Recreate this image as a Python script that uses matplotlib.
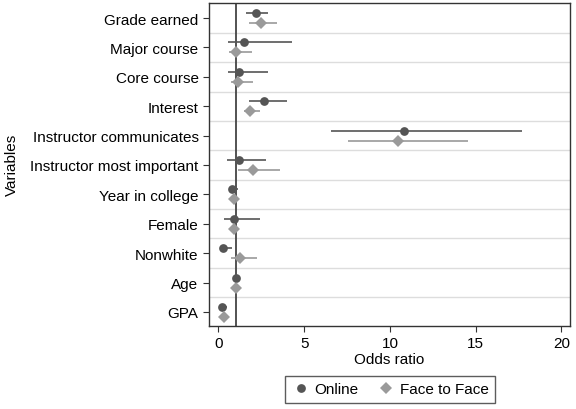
import numpy as np
import matplotlib.pyplot as plt

plt.rcParams['font.family'] = ['Liberation Sans', 'DejaVu Sans']

variables = ["Grade earned", "Major course", "Core course", "Interest",
             "Instructor communicates", "Instructor most important",
             "Year in college", "Female", "Nonwhite", "Age", "GPA"]

online_or = [2.18, 1.52, 1.22, 2.66, 10.8, 1.20, 0.78, 0.91, 0.29, 1.01, 0.20]
online_lo = [1.61, 0.55, 0.55, 1.77, 6.58, 0.53, 0.62, 0.35, 0.12, 0.96, 0.07]
online_hi = [2.91, 4.29, 2.91, 4.02, 17.69, 2.78, 1.13, 2.43, 0.78, 1.06, 0.53]

f2f_or = [2.47, 1.03, 1.17, 1.85, 10.45, 2.04, 0.93, 0.91, 1.26, 1.01, 0.35]
f2f_lo = [1.81, 0.62, 0.72, 1.52, 7.54, 1.17, 0.75, 0.70, 0.72, 0.96, 0.20]
f2f_hi = [3.44, 1.94, 2.00, 2.43, 14.58, 3.60, 1.10, 1.15, 2.27, 1.06, 0.60]

dark = "#555555"
light = "#9a9a9a"

fig = plt.figure(figsize=(5.76, 4.10), dpi=100)
ax = fig.add_axes([0.3628, 0.2024, 0.6268, 0.7876])

y = np.arange(len(variables))
off = 0.17

for k in range(len(variables)):
    if k > 0:
        ax.axhline(k - 0.5, color="#dddddd", lw=1, zorder=0)

ax.axvline(1, color="#444444", lw=1.3, zorder=1)

ax.hlines(y - off, online_lo, online_hi, color=dark, lw=1.2, zorder=2)
ax.hlines(y + off, f2f_lo, f2f_hi, color=light, lw=1.2, zorder=2)
ax.plot(online_or, y - off, "o", color=dark, ms=6.3, mew=0, zorder=3,
        label="Online")
ax.plot(f2f_or, y + off, "D", color=light, ms=6.3, mew=0, zorder=3,
        label="Face to Face")

ax.set_xlim(-0.55, 20.5)
ax.set_ylim(10.48, -0.51)
ax.set_yticks(y)
ax.set_yticklabels(variables)
ax.set_xticks([0, 5, 10, 15, 20])
ax.tick_params(labelsize=11, color="#333333", length=4)
for s in ax.spines.values():
    s.set_color("#333333")
    s.set_linewidth(1)

ax.set_xlabel("Odds ratio", fontsize=11, labelpad=1)
fig.text(12 / 576, 1 - 165 / 410, "Variables", rotation=90, fontsize=11,
         ha="center", va="center")

leg = fig.legend(loc="center", bbox_to_anchor=(390 / 576, 1 - 390.5 / 410),
                 ncol=2, fontsize=11, frameon=True, fancybox=False,
                 edgecolor="#333333", handletextpad=0.3, columnspacing=1.2,
                 borderpad=0.4, handlelength=1.2)
leg.get_frame().set_linewidth(1)

fig.savefig("out.png", dpi=100)
